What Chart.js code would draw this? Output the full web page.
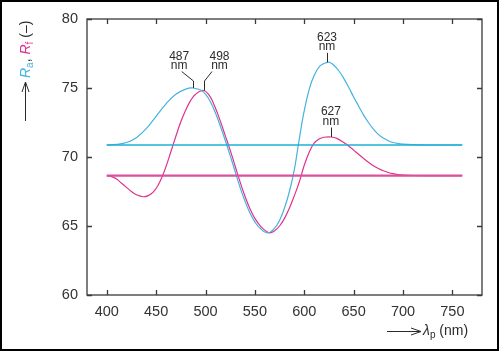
<!DOCTYPE html>
<html>
<head>
<meta charset="utf-8">
<script src="https://cdn.jsdelivr.net/npm/chart.js@4"></script>
<style>
    html, body { margin: 0; padding: 0; background: #fff; }
    #wrap { width: 500px; height: 352px; position: relative; }
</style>
</head>
<body>
<div id="wrap"><canvas id="lambdaChart" width="500" height="352"></canvas></div>
<script>
// wavelength grid (nm) and colour rendering indices
const raLambda = [400, 410, 420, 430, 440, 450, 460, 470, 480, 487, 495, 500, 505, 510, 515, 520, 525, 530, 535, 540, 545, 550, 555, 563, 570, 575, 580, 585, 590, 594, 599, 605, 610, 616, 623, 626, 630, 635, 640, 645, 650, 655, 660, 665, 670, 675, 680, 685, 690, 695, 700, 710, 725, 760];
const raValues = [70.87, 70.92, 71.05, 71.4, 72.05, 72.95, 73.85, 74.55, 74.92, 75.0, 74.85, 74.55, 74.0, 73.2, 72.25, 71.2, 70.1, 68.95, 67.8, 66.8, 65.95, 65.3, 64.85, 64.5, 64.85, 65.4, 66.3, 67.5, 69.1, 70.87, 73.0, 74.9, 75.9, 76.6, 76.86, 76.85, 76.65, 76.25, 75.7, 75.05, 74.35, 73.7, 73.05, 72.5, 72.02, 71.64, 71.37, 71.18, 71.05, 70.97, 70.93, 70.89, 70.87, 70.87];

const rfLambda = [400, 405, 410, 415, 420, 425, 430, 437, 442, 447, 452, 456, 460, 465, 470, 475, 480, 485, 490, 498, 504, 508, 512, 516, 520, 525, 530, 535, 540, 545, 550, 555, 560, 565, 570, 575, 580, 585, 590, 595, 600, 605, 610, 615, 620, 627, 633, 640, 645, 650, 655, 660, 665, 670, 675, 680, 685, 690, 695, 700, 710, 725, 760];
const rfValues = [68.65, 68.58, 68.4, 68.1, 67.8, 67.5, 67.27, 67.12, 67.2, 67.45, 67.95, 68.55, 69.3, 70.4, 71.5, 72.55, 73.4, 74.1, 74.55, 74.82, 74.45, 73.9, 73.2, 72.4, 71.55, 70.5, 69.35, 68.2, 67.15, 66.25, 65.55, 65.05, 64.7, 64.5, 64.65, 65.0, 65.55, 66.3, 67.2, 68.2, 69.4, 70.35, 71.0, 71.3, 71.43, 71.45, 71.35, 71.05, 70.8, 70.5, 70.2, 69.9, 69.62, 69.37, 69.16, 69.0, 68.88, 68.79, 68.73, 68.69, 68.66, 68.65, 68.65];

// reference levels (flat lines)
const flatLambda = [400, 760];
const raFlat = [70.87, 70.87];
const rfFlat = [68.65, 68.65];

// peak annotations
const peakLambda = [487, 498, 623, 627];
const peakValues = [75.0, 74.82, 76.86, 71.45];
const peakLabels = ['487', '498', '623', '627'];

const xTicks = [400, 450, 500, 550, 600, 650, 700, 750];
const yTicks = [60, 65, 70, 75, 80];

const FONT = "'Liberation Sans', Arial, sans-serif";
const CYAN = '#45b2e0';
const CYAN_FLAT = '#1db0d4';
const MAGENTA = '#e0328c';
const MAGENTA_FLAT = '#d8519c';
const INK = '#2b2b2b';

function toPoints(xs, ys) {
    return xs.map((x, i) => ({ x: x, y: ys[i] }));
}

const decor = {
    id: 'decor',
    afterDraw(chart) {
        const ctx = chart.ctx;
        const area = chart.chartArea;
        const sx = chart.scales.x;
        const sy = chart.scales.y;
        ctx.save();

        // frame + inward ticks
        ctx.strokeStyle = '#3a3a3a';
        ctx.lineWidth = 1.3;
        ctx.strokeRect(area.left, area.top, area.right - area.left, area.bottom - area.top);
        ctx.beginPath();
        xTicks.forEach(v => {
            const px = Math.round(sx.getPixelForValue(v)) + 0.5;
            ctx.moveTo(px, area.bottom); ctx.lineTo(px, area.bottom - 5);
            ctx.moveTo(px, area.top); ctx.lineTo(px, area.top + 5);
        });
        yTicks.forEach(v => {
            const py = Math.round(sy.getPixelForValue(v)) + 0.5;
            ctx.moveTo(area.left, py); ctx.lineTo(area.left + 5, py);
            ctx.moveTo(area.right, py); ctx.lineTo(area.right - 5, py);
        });
        ctx.stroke();

        // peak labels
        ctx.fillStyle = INK;
        ctx.strokeStyle = INK;
        ctx.lineWidth = 1;
        ctx.font = '12px ' + FONT;
        ctx.textAlign = 'center';
        ctx.textBaseline = 'alphabetic';
        const yKnee = sy.getPixelForValue(75) - 7;
        peakLambda.forEach((lam, i) => {
            const px = sx.getPixelForValue(lam);
            const py = sy.getPixelForValue(peakValues[i]);
            ctx.beginPath();
            if (i < 2) {
                // angled leaders for the two close peaks
                const dir = i === 0 ? -1 : 1;
                const topX = px + dir * (i === 0 ? 11 : 8.5);
                const topY = yKnee - 9.5;
                ctx.moveTo(Math.round(px) + 0.5, py);
                ctx.lineTo(Math.round(px) + 0.5, yKnee);
                ctx.lineTo(topX, topY);
                ctx.stroke();
                const tx = px + dir * (i === 0 ? 13.5 : 16);
                ctx.fillText(peakLabels[i], tx, topY - 12);
                ctx.fillText('nm', tx, topY - 2.5);
            } else {
                const topY = py - 9.5;
                ctx.moveTo(Math.round(px) + 0.5, py);
                ctx.lineTo(Math.round(px) + 0.5, topY);
                ctx.stroke();
                ctx.fillText(peakLabels[i], px, topY - 12);
                ctx.fillText('nm', px, topY - 2.5);
            }
        });

        // y axis title (rotated) with arrow
        ctx.beginPath();
        ctx.moveTo(25.5, 121); ctx.lineTo(25.5, 82);
        ctx.moveTo(22, 92); ctx.lineTo(25.5, 82); ctx.lineTo(29, 92);
        ctx.stroke();

        ctx.save();
        ctx.translate(30, 78);
        ctx.rotate(-Math.PI / 2);
        ctx.textAlign = 'left';
        let x = 0;
        const part = (txt, font, color, dy) => {
            ctx.font = font;
            ctx.fillStyle = color;
            ctx.fillText(txt, x, dy);
            x += ctx.measureText(txt).width;
        };
        part('R', 'italic 14px ' + FONT, CYAN, 0);
        part('a', '10px ' + FONT, CYAN, 3);
        part(', ', '14px ' + FONT, INK, 0);
        part('R', 'italic 14px ' + FONT, MAGENTA, 0);
        part('f', '10px ' + FONT, MAGENTA, 3);
        part(' (\u2013)', '14px ' + FONT, INK, 0);
        ctx.restore();

        // x axis title with arrow
        ctx.beginPath();
        ctx.moveTo(387, 331.5); ctx.lineTo(421, 331.5);
        ctx.moveTo(411, 328); ctx.lineTo(421, 331.5); ctx.lineTo(411, 335);
        ctx.stroke();
        ctx.textAlign = 'left';
        x = 423;
        const partX = (txt, font, dy) => {
            ctx.font = font;
            ctx.fillStyle = INK;
            ctx.fillText(txt, x, 335 + dy);
            x += ctx.measureText(txt).width;
        };
        partX('\u03bb', 'italic 14px ' + FONT, 0);
        partX('p', '10px ' + FONT, 3);
        partX(' (nm)', '14px ' + FONT, 0);

        // picture border
        ctx.strokeStyle = '#000';
        ctx.lineWidth = 2;
        ctx.strokeRect(1, 1, 497, 349);
        ctx.restore();
    }
};

const ctx = document.getElementById('lambdaChart').getContext('2d');
new Chart(ctx, {
    type: 'scatter',
    data: {
        datasets: [
            { label: 'Ra flat', data: toPoints(flatLambda, raFlat), borderColor: CYAN_FLAT, borderWidth: 1.6 },
            { label: 'Rf flat', data: toPoints(flatLambda, rfFlat), borderColor: MAGENTA_FLAT, borderWidth: 2.2 },
            { label: 'Ra', data: toPoints(raLambda, raValues), borderColor: CYAN, borderWidth: 1.2 },
            { label: 'Rf', data: toPoints(rfLambda, rfValues), borderColor: MAGENTA, borderWidth: 1.2 }
        ]
    },
    options: {
        responsive: false,
        animation: false,
        events: [],
        showLine: true,
        elements: {
            point: { radius: 0 },
            line: { tension: 0.4, fill: false }
        },
        layout: { padding: { top: 19, right: 18, left: 0, bottom: 0 } },
        plugins: { legend: { display: false }, tooltip: { enabled: false } },
        scales: {
            x: {
                type: 'linear',
                min: 380,
                max: 780,
                grid: { display: false, drawTicks: false },
                border: { display: false },
                afterBuildTicks: s => { s.ticks = xTicks.map(v => ({ value: v })); },
                afterFit: s => { s.height = 57; },
                ticks: { color: '#333', padding: 8, font: { family: FONT, size: 14.5 } }
            },
            y: {
                type: 'linear',
                min: 60,
                max: 80,
                grid: { display: false, drawTicks: false },
                border: { display: false },
                afterBuildTicks: s => { s.ticks = yTicks.map(v => ({ value: v })); },
                afterFit: s => { s.width = 87; },
                ticks: { color: '#333', padding: 9, font: { family: FONT, size: 14.5 } }
            }
        }
    },
    plugins: [decor]
});
</script>
</body>
</html>
